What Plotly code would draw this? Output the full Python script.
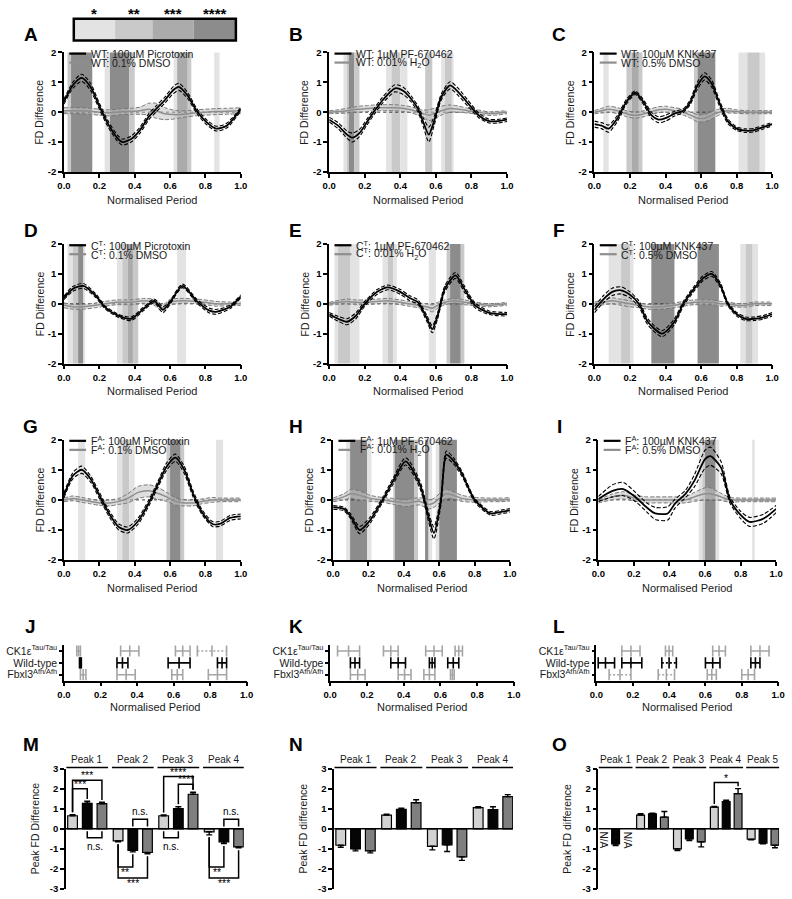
import plotly.graph_objects as go

W, H = 792, 899
FONT = "Liberation Sans"


def px(v):
    return v / W


def py(v):
    return 1 - v / H


SIG_FILL = {1: "#e3e3e3", 2: "#c9c9c9", 3: "#ababab", 4: "#8c8c8c"}

# ---------------- line panels (A-I): key points ----------------
A_x = [0.0, 0.05, 0.1, 0.15, 0.2, 0.25, 0.3, 0.33, 0.38, 0.43, 0.48, 0.52, 0.57, 0.62, 0.65, 0.7, 0.75, 0.8, 0.86, 0.92, 1.0]
A_drug = [0.35, 0.9, 1.15, 0.85, 0.2, -0.4, -0.85, -1.0, -0.9, -0.6, -0.15, 0.1, 0.4, 0.75, 0.85, 0.55, 0.05, -0.3, -0.55, -0.45, 0.1]
A_drug_sem = [0.08, 0.1, 0.12, 0.12, 0.1, 0.1, 0.1, 0.1, 0.1, 0.1, 0.1, 0.1, 0.1, 0.12, 0.12, 0.1, 0.08, 0.08, 0.08, 0.08, 0.06]
A_veh = [0.05, 0.05, 0.05, 0.03, 0.0, -0.02, 0.0, 0.02, 0.03, 0.05, 0.1, 0.05, -0.05, -0.08, -0.08, -0.05, -0.02, 0.0, 0.02, 0.03, 0.05]
A_veh_sem = [0.1, 0.1, 0.1, 0.1, 0.1, 0.1, 0.1, 0.1, 0.1, 0.12, 0.2, 0.25, 0.2, 0.15, 0.12, 0.1, 0.1, 0.1, 0.1, 0.1, 0.1]
A_bands = [(0.02, 0.04, 2), (0.04, 0.16, 4), (0.23, 0.26, 1), (0.26, 0.37, 4), (0.37, 0.40, 2),
           (0.62, 0.64, 1), (0.64, 0.70, 3), (0.70, 0.72, 2), (0.85, 0.88, 1)]

B_x = [0.0, 0.05, 0.1, 0.13, 0.17, 0.21, 0.25, 0.3, 0.37, 0.42, 0.46, 0.5, 0.53, 0.56, 0.59, 0.63, 0.68, 0.73, 0.78, 0.84, 0.9, 0.95, 1.0]
B_drug = [-0.25, -0.45, -0.75, -0.85, -0.7, -0.35, 0.0, 0.4, 0.8, 0.7, 0.45, 0.1, -0.35, -0.75, -0.3, 0.5, 0.9, 0.65, 0.3, -0.1, -0.3, -0.3, -0.25]
B_drug_sem = [0.08, 0.1, 0.12, 0.15, 0.12, 0.1, 0.1, 0.1, 0.12, 0.12, 0.1, 0.1, 0.15, 0.25, 0.15, 0.1, 0.12, 0.12, 0.1, 0.08, 0.06, 0.06, 0.06]
B_veh = [0.0, 0.02, 0.05, 0.08, 0.1, 0.12, 0.14, 0.15, 0.15, 0.12, 0.08, 0.0, -0.05, -0.1, -0.05, 0.05, 0.12, 0.1, 0.05, 0.0, -0.05, -0.03, 0.0]
B_veh_sem = [0.05, 0.06, 0.08, 0.08, 0.1, 0.1, 0.1, 0.1, 0.1, 0.1, 0.1, 0.1, 0.12, 0.18, 0.18, 0.15, 0.12, 0.1, 0.08, 0.07, 0.06, 0.06, 0.05]
B_bands = [(0.08, 0.10, 1), (0.10, 0.11, 2), (0.11, 0.14, 4), (0.14, 0.17, 2), (0.32, 0.35, 1),
           (0.35, 0.40, 2), (0.40, 0.44, 1), (0.54, 0.58, 2), (0.63, 0.65, 1), (0.65, 0.69, 2), (0.69, 0.70, 1)]

C_x = [0.0, 0.04, 0.08, 0.13, 0.18, 0.23, 0.28, 0.32, 0.36, 0.4, 0.45, 0.5, 0.54, 0.58, 0.62, 0.66, 0.7, 0.75, 0.8, 0.85, 0.9, 0.95, 1.0]
C_drug = [-0.4, -0.45, -0.55, -0.2, 0.35, 0.65, 0.3, -0.1, -0.25, -0.2, -0.05, 0.05, 0.35, 0.9, 1.2, 0.95, 0.35, -0.3, -0.55, -0.62, -0.6, -0.5, -0.4]
C_drug_sem = [0.1, 0.1, 0.12, 0.1, 0.08, 0.06, 0.08, 0.1, 0.1, 0.1, 0.08, 0.06, 0.08, 0.12, 0.12, 0.12, 0.1, 0.08, 0.06, 0.06, 0.06, 0.06, 0.06]
C_veh = [0.0, 0.05, 0.1, 0.05, -0.05, -0.1, -0.05, 0.02, 0.08, 0.1, 0.05, 0.0, -0.1, -0.2, -0.2, -0.1, 0.0, 0.05, 0.02, 0.0, 0.0, 0.0, 0.0]
C_veh_sem = [0.05, 0.08, 0.1, 0.1, 0.1, 0.1, 0.1, 0.1, 0.1, 0.1, 0.1, 0.1, 0.1, 0.12, 0.12, 0.12, 0.1, 0.08, 0.06, 0.05, 0.05, 0.05, 0.05]
C_bands = [(0.05, 0.08, 1), (0.18, 0.21, 2), (0.21, 0.25, 3), (0.25, 0.27, 2), (0.56, 0.58, 2),
           (0.58, 0.68, 4), (0.81, 0.86, 1), (0.86, 0.93, 2), (0.93, 0.96, 1)]

D_x = [0.0, 0.05, 0.11, 0.18, 0.23, 0.3, 0.38, 0.45, 0.51, 0.56, 0.6, 0.67, 0.75, 0.82, 0.86, 0.94, 1.0]
D_drug = [0.2, 0.5, 0.6, 0.27, -0.1, -0.38, -0.5, -0.17, 0.1, -0.2, 0.05, 0.6, 0.1, -0.22, -0.27, -0.1, 0.25]
D_drug_sem = [0.06, 0.08, 0.08, 0.06, 0.05, 0.05, 0.06, 0.06, 0.06, 0.1, 0.06, 0.06, 0.06, 0.08, 0.08, 0.06, 0.05]
D_veh = [-0.05, -0.1, -0.1, -0.05, 0.0, 0.05, 0.05, 0.1, 0.05, -0.15, 0.05, 0.1, 0.08, 0.03, 0.0, 0.0, 0.0]
D_veh_sem = [0.08, 0.08, 0.08, 0.08, 0.08, 0.08, 0.08, 0.08, 0.1, 0.12, 0.1, 0.08, 0.08, 0.08, 0.08, 0.06, 0.06]
D_bands = [(0.02, 0.05, 1), (0.05, 0.08, 2), (0.08, 0.11, 4), (0.11, 0.12, 1), (0.30, 0.33, 1),
           (0.33, 0.36, 2), (0.36, 0.39, 3), (0.39, 0.42, 2), (0.64, 0.69, 1)]

E_x = [0.0, 0.05, 0.1, 0.15, 0.2, 0.27, 0.33, 0.4, 0.45, 0.5, 0.55, 0.58, 0.61, 0.65, 0.71, 0.76, 0.82, 0.9, 1.0]
E_drug = [-0.35, -0.5, -0.6, -0.4, 0.0, 0.4, 0.55, 0.4, 0.2, 0.05, -0.5, -0.85, -0.4, 0.5, 0.95, 0.5, -0.05, -0.3, -0.35]
E_drug_sem = [0.06, 0.08, 0.1, 0.1, 0.08, 0.08, 0.08, 0.08, 0.08, 0.08, 0.1, 0.12, 0.1, 0.1, 0.1, 0.1, 0.08, 0.06, 0.06]
E_veh = [0.0, 0.05, 0.08, 0.05, 0.05, 0.08, 0.1, 0.05, 0.0, -0.05, -0.1, -0.15, -0.05, 0.05, 0.1, 0.05, 0.0, -0.05, 0.0]
E_veh_sem = [0.05, 0.06, 0.08, 0.08, 0.08, 0.08, 0.08, 0.08, 0.08, 0.08, 0.1, 0.12, 0.1, 0.08, 0.08, 0.08, 0.06, 0.05, 0.05]
E_bands = [(0.03, 0.05, 1), (0.05, 0.12, 2), (0.12, 0.17, 1), (0.30, 0.33, 1), (0.33, 0.36, 2),
           (0.36, 0.38, 1), (0.56, 0.60, 1), (0.66, 0.68, 2), (0.68, 0.74, 4), (0.74, 0.76, 2)]

F_x = [0.0, 0.05, 0.1, 0.15, 0.2, 0.25, 0.3, 0.38, 0.45, 0.5, 0.56, 0.61, 0.66, 0.71, 0.75, 0.8, 0.85, 0.9, 0.95, 1.0]
F_drug = [-0.2, 0.15, 0.4, 0.45, 0.3, 0.0, -0.6, -1.0, -0.6, 0.0, 0.5, 0.85, 1.0, 0.6, 0.0, -0.35, -0.5, -0.5, -0.45, -0.35]
F_drug_sem = [0.1, 0.12, 0.12, 0.12, 0.1, 0.1, 0.1, 0.1, 0.1, 0.08, 0.08, 0.08, 0.08, 0.08, 0.06, 0.06, 0.06, 0.06, 0.06, 0.06]
F_veh = [0.0, 0.05, 0.1, 0.05, 0.0, -0.05, -0.1, -0.1, -0.05, 0.0, 0.05, 0.05, 0.05, 0.0, 0.0, -0.05, -0.05, 0.0, 0.0, 0.0]
F_veh_sem = [0.06, 0.08, 0.1, 0.1, 0.1, 0.08, 0.08, 0.08, 0.08, 0.08, 0.08, 0.08, 0.08, 0.08, 0.06, 0.06, 0.06, 0.06, 0.06, 0.06]
F_bands = [(0.08, 0.15, 1), (0.15, 0.20, 2), (0.20, 0.22, 1), (0.32, 0.45, 4), (0.58, 0.70, 4),
           (0.82, 0.85, 1), (0.85, 0.89, 2), (0.89, 0.92, 1)]

G_x = [0.0, 0.05, 0.1, 0.15, 0.2, 0.26, 0.31, 0.36, 0.42, 0.48, 0.53, 0.58, 0.63, 0.68, 0.73, 0.78, 0.84, 0.88, 0.94, 1.0]
G_drug = [0.15, 0.8, 1.0, 0.7, 0.15, -0.5, -0.9, -1.0, -0.7, -0.1, 0.5, 1.1, 1.4, 1.0, 0.2, -0.4, -0.8, -0.8, -0.6, -0.55]
G_drug_sem = [0.08, 0.1, 0.12, 0.1, 0.1, 0.1, 0.1, 0.1, 0.1, 0.1, 0.1, 0.12, 0.12, 0.12, 0.1, 0.08, 0.08, 0.08, 0.08, 0.08]
G_veh = [0.0, 0.05, 0.0, -0.05, -0.1, -0.1, -0.05, 0.05, 0.25, 0.3, 0.22, 0.1, -0.05, -0.1, -0.1, -0.05, 0.0, 0.0, 0.0, 0.0]
G_veh_sem = [0.06, 0.08, 0.08, 0.08, 0.08, 0.1, 0.1, 0.15, 0.2, 0.2, 0.2, 0.15, 0.12, 0.1, 0.1, 0.08, 0.08, 0.06, 0.06, 0.06]
G_bands = [(0.08, 0.12, 1), (0.30, 0.33, 1), (0.33, 0.37, 2), (0.37, 0.40, 1), (0.58, 0.60, 2),
           (0.60, 0.66, 4), (0.66, 0.68, 2), (0.86, 0.90, 1)]

H_x = [0.0, 0.06, 0.1, 0.15, 0.21, 0.28, 0.34, 0.41, 0.49, 0.54, 0.57, 0.61, 0.64, 0.68, 0.73, 0.8, 0.89, 0.95, 1.0]
H_drug = [-0.25, -0.3, -0.55, -1.0, -0.67, 0.0, 0.63, 1.28, 0.52, -0.57, -1.1, 0.0, 1.5, 1.3, 0.85, 0.0, -0.45, -0.4, -0.35]
H_drug_sem = [0.06, 0.06, 0.08, 0.12, 0.1, 0.08, 0.1, 0.12, 0.12, 0.15, 0.2, 0.15, 0.12, 0.1, 0.08, 0.06, 0.06, 0.06, 0.06]
H_veh = [0.0, 0.1, 0.2, 0.15, 0.05, 0.0, -0.05, -0.1, -0.05, -0.15, -0.1, 0.1, 0.2, 0.15, 0.05, 0.0, 0.0, 0.0, 0.02]
H_veh_sem = [0.06, 0.1, 0.15, 0.15, 0.1, 0.08, 0.1, 0.12, 0.12, 0.15, 0.15, 0.15, 0.15, 0.12, 0.1, 0.08, 0.06, 0.06, 0.06]
H_bands = [(0.074, 0.096, 1), (0.096, 0.193, 4), (0.193, 0.217, 1), (0.34, 0.35, 2), (0.35, 0.46, 4),
           (0.46, 0.48, 2), (0.52, 0.54, 4), (0.54, 0.56, 1), (0.58, 0.60, 1), (0.60, 0.70, 4)]

I_x = [0.0, 0.08, 0.14, 0.21, 0.27, 0.32, 0.39, 0.43, 0.49, 0.54, 0.6, 0.63, 0.69, 0.74, 0.8, 0.85, 0.93, 1.0]
I_drug = [0.03, 0.3, 0.36, 0.09, -0.24, -0.45, -0.45, -0.13, 0.2, 0.63, 1.35, 1.45, 1.07, 0.0, -0.5, -0.73, -0.62, -0.3]
I_drug_sem = [0.08, 0.2, 0.22, 0.15, 0.15, 0.2, 0.22, 0.15, 0.12, 0.2, 0.3, 0.3, 0.2, 0.1, 0.12, 0.15, 0.15, 0.12]
I_veh = [-0.05, 0.1, 0.15, 0.05, 0.0, 0.0, 0.0, 0.0, 0.0, 0.1, 0.2, 0.2, 0.1, 0.0, 0.0, 0.0, 0.0, 0.0]
I_veh_sem = [0.05, 0.1, 0.12, 0.1, 0.1, 0.1, 0.1, 0.1, 0.1, 0.15, 0.2, 0.2, 0.12, 0.08, 0.06, 0.06, 0.06, 0.06]
I_bands = [(0.565, 0.585, 1), (0.585, 0.60, 2), (0.60, 0.66, 4), (0.66, 0.68, 1), (0.865, 0.88, 1)]

LEGENDS = {
    "A": ("WT: 100µM Picrotoxin", "WT: 0.1% DMSO"),
    "B": ("WT: 1µM PF-670462", "WT: 0.01% H<sub>2</sub>O"),
    "C": ("WT: 100µM KNK437", "WT: 0.5% DMSO"),
    "D": ("C<sup>T</sup>: 100µM Picrotoxin", "C<sup>T</sup>: 0.1% DMSO"),
    "E": ("C<sup>T</sup>: 1µM PF-670462", "C<sup>T</sup>: 0.01% H<sub>2</sub>O"),
    "F": ("C<sup>T</sup>: 100µM KNK437", "C<sup>T</sup>: 0.5% DMSO"),
    "G": ("F<sup>A</sup>: 100µM Picrotoxin", "F<sup>A</sup>: 0.1% DMSO"),
    "H": ("F<sup>A</sup>: 1µM PF-670462", "F<sup>A</sup>: 0.01% H<sub>2</sub>O"),
    "I": ("F<sup>A</sup>: 100µM KNK437", "F<sup>A</sup>: 0.5% DMSO"),
}

# ---------------- interval panels (J-L): (low, mid, high) ----------------
GENOTYPES = ["CK1ε<sup>Tau/Tau</sup>", "Wild-type", "Fbxl3<sup>Afh/Afh</sup>"]
J_CK1 = [(0.07, 0.08, 0.09), (0.31, 0.36, 0.41), (0.61, 0.65, 0.69), (0.73, 0.81, 0.89)]
J_WT = [(0.085, 0.09, 0.095), (0.29, 0.32, 0.35), (0.57, 0.63, 0.69), (0.84, 0.865, 0.89)]
J_FBX = [(0.09, 0.105, 0.12), (0.29, 0.34, 0.39), (0.59, 0.62, 0.65), (0.79, 0.84, 0.89)]
K_CK1 = [(0.04, 0.10, 0.16), (0.29, 0.33, 0.37), (0.52, 0.565, 0.61), (0.68, 0.70, 0.72)]
K_WT = [(0.11, 0.135, 0.16), (0.33, 0.37, 0.41), (0.54, 0.555, 0.57), (0.64, 0.67, 0.70)]
K_FBX = [(0.11, 0.15, 0.19), (0.37, 0.405, 0.44), (0.51, 0.54, 0.57), (0.655, 0.665, 0.675)]
L_CK1 = [(0.14, 0.19, 0.24), (0.38, 0.40, 0.42), (0.64, 0.675, 0.71), (0.85, 0.90, 0.95)]
L_WT = [(0.01, 0.05, 0.10), (0.14, 0.19, 0.25), (0.36, 0.40, 0.44), (0.60, 0.64, 0.68), (0.85, 0.875, 0.90)]
L_FBX = [(0.07, 0.13, 0.19), (0.34, 0.385, 0.43), (0.61, 0.635, 0.66), (0.80, 0.835, 0.87)]
DOTTED = {("J", 0): [3], ("L", 1): [2], ("L", 2): [0, 1]}

# ---------------- bar panels (M-O) ----------------
M_groups = ["Peak 1", "Peak 2", "Peak 3", "Peak 4"]
M_ck1 = [0.65, -0.6, 0.65, -0.15]
M_ck1_err = [0.05, 0.05, 0.04, 0.15]
M_wt = [1.27, -1.07, 1.0, -0.65]
M_wt_err = [0.1, 0.08, 0.1, 0.08]
M_fbx = [1.25, -1.18, 1.72, -0.9]
M_fbx_err = [0.07, 0.07, 0.1, 0.05]
M_sig = [(0, 0, 2, "***"), (0, 0, 1, "***"), (0, 1, 2, "n.s."), (1, 1, 2, "n.s."), (1, 0, 1, "**"),
         (1, 0, 2, "***"), (2, 0, 2, "****"), (2, 1, 2, "****"), (2, 0, 1, "n.s."), (3, 1, 2, "n.s."),
         (3, 0, 1, "**"), (3, 0, 2, "***")]

N_groups = ["Peak 1", "Peak 2", "Peak 3", "Peak 4"]
N_ck1 = [-0.82, 0.68, -0.87, 1.05]
N_ck1_err = [0.1, 0.05, 0.18, 0.05]
N_wt = [-1.0, 0.97, -0.8, 0.95]
N_wt_err = [0.1, 0.05, 0.33, 0.15]
N_fbx = [-1.1, 1.3, -1.4, 1.6]
N_fbx_err = [0.1, 0.15, 0.17, 0.1]

O_groups = ["Peak 1", "Peak 2", "Peak 3", "Peak 4", "Peak 5"]
O_ck1 = [None, 0.68, -1.0, 1.08, -0.52]
O_ck1_err = [0, 0.07, 0.08, 0.03, 0.03]
O_wt = [-0.75, 0.75, -0.5, 1.35, -0.72]
O_wt_err = [0.08, 0.03, 0.08, 0.07, 0.03]
O_fbx = [None, 0.58, -0.65, 1.75, -0.82]
O_fbx_err = [0, 0.28, 0.25, 0.25, 0.12]
O_sig = [(3, 0, 2, "*")]

# =====================================================================
shapes, annos, traces = [], [], []
layout = dict(width=W, height=H, margin=dict(l=0, r=0, t=0, b=0), paper_bgcolor="white",
              plot_bgcolor="white", showlegend=False, font=dict(family=FONT, color="black"))
counter = [0]


def new_axes(xd, yd, xr, yr, xkw, ykw):
    counter[0] += 1
    k = counter[0]
    s = "" if k == 1 else str(k)
    xa, ya = "x" + s, "y" + s
    layout["xaxis" + s] = dict(domain=[px(xd[0]), px(xd[1])], range=xr, anchor=ya, **xkw)
    layout["yaxis" + s] = dict(domain=[py(yd[1]), py(yd[0])], range=yr, anchor=xa, **ykw)
    return xa, ya


TICKFONT = dict(family=FONT, size=9.5, color="black", weight="bold")
AX = dict(showline=True, linecolor="black", linewidth=1.5, ticks="outside", ticklen=4, tickwidth=1.5,
          tickcolor="black", showgrid=False, zeroline=False, tickfont=TICKFONT, fixedrange=True)
XT = [0, 0.2, 0.4, 0.6, 0.8, 1.0]
XTT = ["0.0", "0.2", "0.4", "0.6", "0.8", "1.0"]


def text(x, y, t, size=10.5, color="#1a1a1a", weight="normal", **kw):
    d = dict(x=x, y=y, xref="paper", yref="paper", text=t, showarrow=False, xanchor="center",
             yanchor="middle", font=dict(family=FONT, size=size, color=color, weight=weight))
    d.update(kw)
    annos.append(d)


def line_panel(L, X, drug, dsem, veh, vsem, bands, xd, yd):
    xa, ya = new_axes(xd, yd, [0, 1], [-2, 2],
                      dict(AX, tickvals=XT, ticktext=XTT),
                      dict(AX, tickvals=[-2, -1, 0, 1, 2], ticktext=["-2", "-1", "0", "1", "2"]))
    for a, b, lvl in bands:
        shapes.append(dict(type="rect", xref=xa, yref=ya + " domain", x0=a, x1=b, y0=0, y1=1,
                           fillcolor=SIG_FILL[lvl], line=dict(width=0), layer="below"))
    shapes.append(dict(type="line", xref=xa, yref=ya, x0=0, x1=1, y0=0, y1=0,
                       line=dict(color="#333", width=1, dash="dot"), layer="below"))
    sp = dict(shape="spline", smoothing=0.7)
    vlo = [m - s for m, s in zip(veh, vsem)]
    vhi = [m + s for m, s in zip(veh, vsem)]
    dlo = [m - s for m, s in zip(drug, dsem)]
    dhi = [m + s for m, s in zip(drug, dsem)]
    common = dict(x=X, xaxis=xa, yaxis=ya, mode="lines", hoverinfo="skip")
    traces.append(go.Scatter(y=vlo, line=dict(color="#777", width=1, dash="4px,2px", **sp), **common))
    traces.append(go.Scatter(y=vhi, line=dict(color="#777", width=1, dash="4px,2px", **sp), fill="tonexty",
                             fillcolor="rgba(195,195,195,0.55)", **common))
    traces.append(go.Scatter(y=veh, line=dict(color="#8e8e8e", width=1.5, **sp), **common))
    traces.append(go.Scatter(y=dlo, line=dict(color="black", width=1.1, dash="4px,2px", **sp), **common))
    traces.append(go.Scatter(y=dhi, line=dict(color="black", width=1.1, dash="4px,2px", **sp), **common))
    traces.append(go.Scatter(y=drug, line=dict(color="black", width=1.8, **sp), **common))
    # inline legend
    for yy, col, lab in [(0.99, "black", LEGENDS[L][0]), (0.915, "#8e8e8e", LEGENDS[L][1])]:
        shapes.append(dict(type="line", xref=xa + " domain", yref=ya + " domain", x0=0.03, x1=0.125,
                           y0=yy, y1=yy, line=dict(color=col, width=2.2)))
        annos.append(dict(x=0.14, y=yy, xref=xa + " domain", yref=ya + " domain", text=lab,
                          showarrow=False, xanchor="left", yanchor="middle",
                          font=dict(family=FONT, size=10.5, color="#1a1a1a")))
    cx = (xd[0] + xd[1]) / 2
    text(px(cx), py(yd[1] + 28), "Normalised Period", size=11)
    text(px(xd[0] - 25), py((yd[0] + yd[1]) / 2), "FD Difference", size=10.5, textangle=-90)


def interval_panel(L, rows, xd, yd):
    xa, ya = new_axes(xd, yd, [0, 1], [-0.5, 2.5],
                      dict(AX, tickvals=XT, ticktext=XTT),
                      dict(AX, tickvals=[2, 1, 0], ticktext=GENOTYPES, ticklen=3,
                           tickfont=dict(family=FONT, size=10.5, color="#1a1a1a")))
    for r, data in enumerate(rows):
        yv = 2 - r
        col = "black" if r == 1 else "#a5a5a5"
        dots = DOTTED.get((L, r), [])
        for i, (lo, mid, hi) in enumerate(data):
            dash = "2px,2px" if i in dots else "solid"
            traces.append(go.Scatter(x=[lo, hi], y=[yv, yv], xaxis=xa, yaxis=ya, mode="lines",
                                     line=dict(color=col, width=1.6, dash=dash), hoverinfo="skip"))
            traces.append(go.Scatter(x=[lo, mid, hi], y=[yv, yv, yv], xaxis=xa, yaxis=ya, mode="markers",
                                     marker=dict(symbol="line-ns", size=8, line=dict(color=col, width=1.6)),
                                     hoverinfo="skip"))
    cx = (xd[0] + xd[1]) / 2
    text(px(cx), py(yd[1] + 27), "Normalised Period", size=11)


STRIDE = 3.1
BAR_COLS = ["#d2d2d2", "#050505", "#7f7f7f"]
LEVELS = {(0, 0, 2): 2.42, (0, 0, 1): 2.0, (2, 0, 2): 2.6, (2, 1, 2): 2.22, (3, 0, 2): 2.3}


def bar_panel(groups, series, errs, sig, na, xd, yd, ytitle, sig_levels):
    n = len(groups)
    xr = [-0.45, (n - 1) * STRIDE + 2.35]
    xa, ya = new_axes(xd, yd, xr, [-3, 3],
                      dict(showline=False, showticklabels=False, ticks="", showgrid=False, zeroline=False,
                           fixedrange=True),
                      dict(AX, tickvals=[-3, -2, -1, 0, 1, 2, 3], ticktext=["-3", "-2", "-1", "0", "1", "2", "3"],
                           zeroline=False))
    for i, (vals, ee) in enumerate(zip(series, errs)):
        xs = [g * STRIDE + i for g in range(n)]
        up = [e if (v is not None and v >= 0) else 0 for v, e in zip(vals, ee)]
        dn = [e if (v is not None and v < 0) else 0 for v, e in zip(vals, ee)]
        traces.append(go.Bar(x=xs, y=vals, xaxis=xa, yaxis=ya, width=0.66,
                             marker=dict(color=BAR_COLS[i], line=dict(color="black", width=1.2)),
                             error_y=dict(type="data", symmetric=False, array=up, arrayminus=dn,
                                          color="black", thickness=1.4, width=3),
                             hoverinfo="skip"))
    shapes.append(dict(type="line", xref=xa, yref=ya, x0=xr[0], x1=xr[1], y0=0, y1=0,
                       line=dict(color="black", width=1.5)))
    for g, name in enumerate(groups):
        a, b = g * STRIDE - 0.42, g * STRIDE + 2.42
        shapes.append(dict(type="line", xref=xa, yref="paper", x0=a, x1=b, y0=py(yd[0] - 1), y1=py(yd[0] - 1),
                           line=dict(color="black", width=1.5)))
        annos.append(dict(x=g * STRIDE + 1, y=py(yd[0] - 2), xref=xa, yref="paper", text=name,
                          showarrow=False, xanchor="center", yanchor="bottom",
                          font=dict(family=FONT, size=10, color="#1a1a1a")))
    for g, i in na:
        annos.append(dict(x=g * STRIDE + i, y=-0.05, xref=xa, yref=ya, text="N/A", textangle=90,
                          showarrow=False, xanchor="center", yanchor="top",
                          font=dict(family=FONT, size=10, color="#1a1a1a")))
    # significance brackets
    for g, i, j, lab in sig:
        vi, vj = series[i][g], series[j][g]
        ei, ej = errs[i][g], errs[j][g]
        xi, xj = g * STRIDE + i, g * STRIDE + j
        above = (vi < 0) if lab == "n.s." else (vi > 0)
        star = "*" in lab
        sfont = dict(family=FONT, size=10.5 if star else 10, color="black")
        if above:
            si = max(vi + ei, 0) + 0.12
            sj = max(vj + ej, 0) + 0.12
            lvl = 0.47 if lab == "n.s." else sig_levels[(g, i, j)]
            shapes.append(dict(type="path", xref=xa, yref=ya,
                               path=f"M{xi},{si} L{xi},{lvl} L{xj},{lvl} L{xj},{sj}",
                               line=dict(color="black", width=1.5)))
            annos.append(dict(x=(xi + xj) / 2, y=lvl, xref=xa, yref=ya, text=lab, showarrow=False,
                              xanchor="center", yanchor="bottom", yshift=-3 if star else 0, font=sfont,
                              opacity=0.99))
        else:
            si = min(vi - ei, 0) - 0.12
            sj = min(vj - ej, 0) - 0.12
            if lab == "n.s.":
                lvl = -0.45
            else:
                lvl = -1.9 if abs(j - i) == 1 else -2.45
            shapes.append(dict(type="path", xref=xa, yref=ya,
                               path=f"M{xi},{si} L{xi},{lvl} L{xj},{lvl} L{xj},{sj}",
                               line=dict(color="black", width=1.5)))
            annos.append(dict(x=(xi + xj) / 2, y=lvl, xref=xa, yref=ya, text=lab, showarrow=False,
                              xanchor="center", yanchor="top", yshift=3 if star else -1, font=sfont,
                              opacity=0.99))
    text(px(xd[0] - 32), py((yd[0] + yd[1]) / 2), ytitle, size=10.5, textangle=-90)


# ---------------- layout geometry (pixels) ----------------
LINE_COLS = [[(58, 238), (328, 509), (598, 779)],
             [(58, 238), (328, 509), (598, 779)],
             [(58, 238), (332, 512), (602, 783)]]
LINE_ROWS = [(47, 168), (241, 362), (439, 561)]
panels = [
    ("A", A_x, A_drug, A_drug_sem, A_veh, A_veh_sem, A_bands),
    ("B", B_x, B_drug, B_drug_sem, B_veh, B_veh_sem, B_bands),
    ("C", C_x, C_drug, C_drug_sem, C_veh, C_veh_sem, C_bands),
    ("D", D_x, D_drug, D_drug_sem, D_veh, D_veh_sem, D_bands),
    ("E", E_x, E_drug, E_drug_sem, E_veh, E_veh_sem, E_bands),
    ("F", F_x, F_drug, F_drug_sem, F_veh, F_veh_sem, F_bands),
    ("G", G_x, G_drug, G_drug_sem, G_veh, G_veh_sem, G_bands),
    ("H", H_x, H_drug, H_drug_sem, H_veh, H_veh_sem, H_bands),
    ("I", I_x, I_drug, I_drug_sem, I_veh, I_veh_sem, I_bands),
]
for idx, p in enumerate(panels):
    r, c = divmod(idx, 3)
    line_panel(*p, LINE_COLS[r][c], LINE_ROWS[r])

INT_COLS = [(58, 244), (329, 516), (600, 785)]
INT_ROW = (647, 683)
interval_panel("J", [J_CK1, J_WT, J_FBX], INT_COLS[0], INT_ROW)
interval_panel("K", [K_CK1, K_WT, K_FBX], INT_COLS[1], INT_ROW)
interval_panel("L", [L_CK1, L_WT, L_FBX], INT_COLS[2], INT_ROW)

BAR_ROW = (772, 894)
bar_panel(M_groups, [M_ck1, M_wt, M_fbx], [M_ck1_err, M_wt_err, M_fbx_err], M_sig, [], (60, 241), BAR_ROW,
          "Peak FD Difference", LEVELS)
bar_panel(N_groups, [N_ck1, N_wt, N_fbx], [N_ck1_err, N_wt_err, N_fbx_err], [], [], (333, 515), BAR_ROW,
          "Peak FD difference", LEVELS)
bar_panel(O_groups, [O_ck1, O_wt, O_fbx], [O_ck1_err, O_wt_err, O_fbx_err], O_sig, [(0, 0), (0, 2)],
          (602, 786), BAR_ROW, "Peak FD difference", LEVELS)

# panel letters
COLX = [24, 294, 562]
ROWY = [29, 227, 426, 628, 748]
LET = ["ABC", "DEF", "GHI", "JKL", "MNO"]
for r, row in enumerate(LET):
    for c, ch in enumerate(row):
        text(px(COLX[c]), py(ROWY[r]), ch, size=19, color="black", weight="bold")

# significance key at the top
KEY_EDGES = [68, 110, 148, 190, 233]
KEY_STARS = ["*", "**", "***", "****"]
for i in range(4):
    shapes.append(dict(type="rect", xref="paper", yref="paper", x0=px(KEY_EDGES[i]), x1=px(KEY_EDGES[i + 1]),
                       y0=py(35), y1=py(13), fillcolor=SIG_FILL[i + 1], line=dict(width=0)))
    text(px((KEY_EDGES[i] + KEY_EDGES[i + 1]) / 2), py(8), KEY_STARS[i], size=15, color="black",
         weight="bold")
shapes.append(dict(type="rect", xref="paper", yref="paper", x0=px(68), x1=px(233), y0=py(35), y1=py(13),
                   line=dict(color="black", width=2.5), fillcolor="rgba(0,0,0,0)"))

layout["shapes"] = shapes
layout["annotations"] = annos
fig = go.Figure(data=traces, layout=layout)
fig.write_html("out.html", config={"displayModeBar": False},
               post_script="document.body.style.margin='0px';document.body.style.overflow='hidden';")
